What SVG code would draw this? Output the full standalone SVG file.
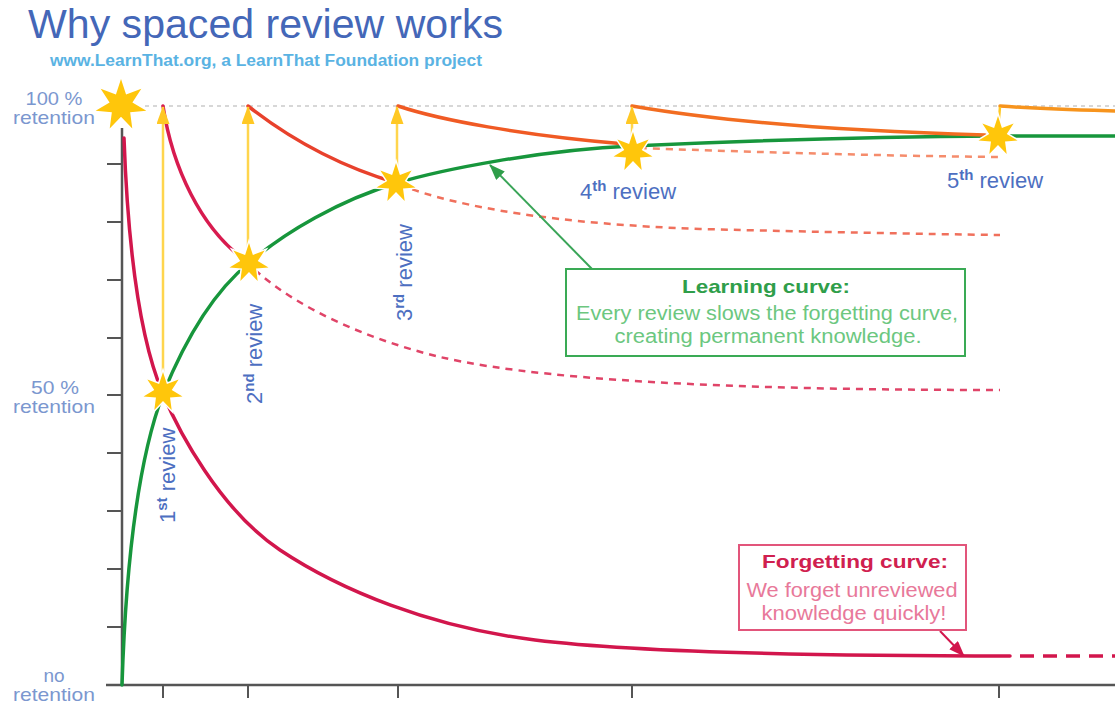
<svg xmlns="http://www.w3.org/2000/svg" width="1115" height="703" viewBox="0 0 1115 703">
<defs>
<style>
text{font-family:"Liberation Sans",Arial,sans-serif}
.ax{stroke:#555;stroke-width:2.5;fill:none}
.tick{stroke:#555;stroke-width:2}
.lab{fill:#7b97cf;font-size:19px;text-anchor:middle}
.rev{fill:#4d6fc1;font-size:22px}
.sup{font-size:15px;font-weight:bold}
.star{fill:#ffc60b;stroke:#fff;stroke-width:3;paint-order:stroke}
.c{fill:none;stroke-width:3.5;stroke-linecap:round}
.d{fill:none;stroke-width:2.5;stroke-dasharray:7 6}
.ya{stroke:#ffd54d;stroke-width:2.5;marker-end:url(#ya)}
</style>
<marker id="ya" markerUnits="userSpaceOnUse" viewBox="0 0 18 13" refX="17" refY="6.5" markerWidth="18" markerHeight="13" orient="auto"><path d="M0,0 L18,6.5 L0,13 z" fill="#ffc824"/></marker>
<marker id="ga" markerUnits="userSpaceOnUse" viewBox="0 0 16 12" refX="15" refY="6" markerWidth="16" markerHeight="12" orient="auto"><path d="M0,0 L16,6 L0,12 z" fill="#2f9e4a"/></marker>
<marker id="ra" markerUnits="userSpaceOnUse" viewBox="0 0 16 12" refX="15" refY="6" markerWidth="16" markerHeight="12" orient="auto"><path d="M0,0 L16,6 L0,12 z" fill="#d2164c"/></marker>
<polygon id="star" class="star" points="0,-20 3.9,-8.11 15.64,-12.47 8.77,-2 19.5,4.45 7.04,5.61 8.68,18.02 0,9 -8.68,18.02 -7.04,5.61 -19.5,4.45 -8.77,-2 -15.64,-12.47 -3.9,-8.11"/>
</defs>
<rect width="1115" height="703" fill="#fff"/>

<g id="title">
<text x="28" y="38" font-size="41" fill="#4467b8" textLength="475" lengthAdjust="spacingAndGlyphs">Why spaced review works</text>
<text x="50" y="66" font-size="16" font-weight="bold" fill="#5ab3e3" textLength="432" lengthAdjust="spacingAndGlyphs">www.LearnThat.org, a LearnThat Foundation project</text>
</g>

<g id="axes">
<line class="ax" x1="122" y1="128" x2="122" y2="686"/>
<line class="ax" x1="106" y1="685" x2="1115" y2="685"/>
<g class="tick">
<line x1="107" y1="627" x2="122" y2="627"/><line x1="107" y1="569" x2="122" y2="569"/><line x1="107" y1="511" x2="122" y2="511"/>
<line x1="107" y1="453" x2="122" y2="453"/><line x1="107" y1="395" x2="122" y2="395"/><line x1="107" y1="338" x2="122" y2="338"/>
<line x1="107" y1="280" x2="122" y2="280"/><line x1="107" y1="222" x2="122" y2="222"/><line x1="107" y1="164" x2="122" y2="164"/>
<line x1="163" y1="685" x2="163" y2="698"/><line x1="248" y1="685" x2="248" y2="698"/><line x1="398" y1="685" x2="398" y2="698"/>
<line x1="632" y1="685" x2="632" y2="698"/><line x1="999" y1="685" x2="999" y2="698"/>
</g>
<line x1="145" y1="106" x2="1115" y2="106" stroke="#b0b0b0" stroke-width="1.2" stroke-dasharray="4 4"/>
</g>

<g id="axis-labels">
<text class="lab" x="54" y="105" textLength="57" lengthAdjust="spacingAndGlyphs">100 %</text>
<text class="lab" x="54" y="124" textLength="82" lengthAdjust="spacingAndGlyphs">retention</text>
<text class="lab" x="55" y="394" textLength="48" lengthAdjust="spacingAndGlyphs">50 %</text>
<text class="lab" x="54" y="413" textLength="82" lengthAdjust="spacingAndGlyphs">retention</text>
<text class="lab" x="54" y="682" font-size="20">no</text>
<text class="lab" x="54" y="701" textLength="82" lengthAdjust="spacingAndGlyphs">retention</text>
</g>

<g id="connectors">
<!-- forgetting curve -->
<path class="c" stroke="#d2164c" d="M124,138 C128,250 140,340 163,394 C178,430 220,510 280,550 C340,590 430,627 535,640 C640,653 850,656 1010,656"/>
<path fill="none" stroke="#d2164c" stroke-width="3.5" stroke-dasharray="14 9" d="M1020,656 L1115,656"/>
<!-- learning curve -->
<path class="c" stroke="#17963c" d="M122,685 C126,560 138,460 163,394 C183,345 212,293 249,263 C285,232 340,200 397,183 C440,170 540,150 632,146 C720,142 850,137 998,136 L1115,136"/>
<!-- review forgetting curves -->
<path class="c" stroke="#d81b4f" d="M163,106 C172,165 200,230 249,263"/>
<path class="d" stroke="#e04468" d="M255,270 C300,310 370,340 440,357 C560,385 800,390 1000,390"/>
<path class="c" stroke="#e8412c" d="M248,106 C285,135 335,165 397,183"/>
<path class="d" stroke="#f0705c" d="M400,185 C460,208 560,224 700,229 C820,232 920,234 1000,235"/>
<path class="c" stroke="#f05a24" d="M398,106 C440,120 520,135 625,144"/>
<path class="d" stroke="#f58c6c" d="M640,148 C720,151 880,156 1000,157"/>
<path class="c" stroke="#f26d21" d="M632,106 C690,116 800,130 985,135"/>
<path class="c" stroke="#f7941d" d="M1000,106 C1040,109 1080,110 1115,111"/>
<!-- review arrows -->
<line class="ya" x1="163" y1="390" x2="163" y2="107"/>
<line class="ya" x1="248" y1="260" x2="248" y2="107"/>
<line class="ya" x1="397" y1="180" x2="397" y2="107"/>
<line class="ya" x1="632" y1="148" x2="632" y2="107"/>
<line x1="998" y1="130" x2="1000" y2="107" stroke="#ffc824" stroke-width="2.5"/>
<!-- callout pointers -->
<line x1="592" y1="269" x2="490" y2="165" stroke="#3aa558" stroke-width="2" marker-end="url(#ga)"/>
<line x1="940" y1="631" x2="964" y2="656" stroke="#d2164c" stroke-width="2" marker-end="url(#ra)"/>
</g>

<g id="stars">
<use href="#star" transform="translate(121,105) scale(1.3)"/>
<use href="#star" x="163" y="392"/>
<use href="#star" x="249" y="263"/>
<use href="#star" x="396" y="183"/>
<use href="#star" x="633" y="152"/>
<use href="#star" x="998" y="136"/>
</g>

<g id="review-labels">
<text class="rev" transform="translate(175,523) rotate(-90)">1<tspan class="sup" dy="-8">st</tspan><tspan dy="8"> review</tspan></text>
<text class="rev" transform="translate(262,404) rotate(-90)">2<tspan class="sup" dy="-8">nd</tspan><tspan dy="8"> review</tspan></text>
<text class="rev" transform="translate(412,321) rotate(-90)">3<tspan class="sup" dy="-8">rd</tspan><tspan dy="8"> review</tspan></text>
<text class="rev" x="580" y="199">4<tspan class="sup" dy="-8">th</tspan><tspan dy="8"> review</tspan></text>
<text class="rev" x="947" y="188">5<tspan class="sup" dy="-8">th</tspan><tspan dy="8"> review</tspan></text>
</g>

<g id="learning-callout">
<rect x="566" y="269" width="399" height="87" fill="#fff" stroke="#3aaa55" stroke-width="2"/>
<text x="766" y="293" text-anchor="middle" font-size="19" font-weight="bold" fill="#2f9e4a" textLength="168" lengthAdjust="spacingAndGlyphs">Learning curve:</text>
<text x="767" y="320" text-anchor="middle" font-size="20" fill="#6cc77f" textLength="382" lengthAdjust="spacingAndGlyphs">Every review slows the forgetting curve,</text>
<text x="768" y="343" text-anchor="middle" font-size="20" fill="#6cc77f" textLength="307" lengthAdjust="spacingAndGlyphs">creating permanent knowledge.</text>
</g>

<g id="forgetting-callout">
<rect x="739" y="545" width="227" height="85" fill="#fff" stroke="#e2557b" stroke-width="2"/>
<text x="855" y="568" text-anchor="middle" font-size="19" font-weight="bold" fill="#d0204f" textLength="186" lengthAdjust="spacingAndGlyphs">Forgetting curve:</text>
<text x="852" y="597" text-anchor="middle" font-size="20" fill="#e8799a" textLength="211" lengthAdjust="spacingAndGlyphs">We forget unreviewed</text>
<text x="854" y="620" text-anchor="middle" font-size="20" fill="#e8799a" textLength="185" lengthAdjust="spacingAndGlyphs">knowledge quickly!</text>
</g>
</svg>
